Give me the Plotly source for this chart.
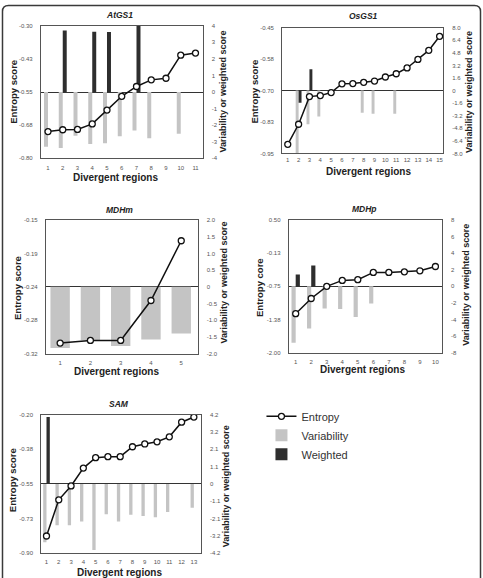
import plotly.graph_objects as go

W, H = 483, 578

# ---------------- data ----------------
panel_names = ["AtGS1", "OsGS1", "MDHm", "MDHp", "SAM"]

atgs1_entropy = [-0.699, -0.692, -0.691, -0.670, -0.618, -0.566, -0.529, -0.504, -0.498, -0.411, -0.403]
atgs1_variability = [-3.30, -3.37, -2.63, -3.13, -3.09, -2.67, -2.32, -2.79, None, -2.51, None]
atgs1_weighted = [None, 3.72, None, 3.64, 3.62, None, 4.0, None, None, None, None]

osgs1_entropy = [-0.914, -0.834, -0.724, -0.720, -0.708, -0.673, -0.672, -0.667, -0.662, -0.646,
                 -0.633, -0.610, -0.576, -0.540, -0.484]
osgs1_variability = [None, -8.0, -4.3, -3.3, None, None, None, -2.83, -2.96, None, -2.96, None, None, None, None]
osgs1_weighted = [None, -1.54, 2.7, None, None, None, None, None, None, None, None, None, None, None, None]

mdhm_entropy = [-0.3066, -0.3032, -0.3032, -0.2524, -0.1764]
mdhm_variability = [-1.83, -1.60, -1.77, -1.58, -1.40]
mdhm_weighted = []

mdhp_entropy = [-1.266, -0.980, -0.750, -0.638, -0.625, -0.488, -0.488, -0.476, -0.457, -0.376]
mdhp_variability = [-6.8, -5.1, -2.67, -2.75, -3.7, -2.07, None, None, None, None]
mdhp_weighted = [1.43, 2.5, None, None, None, None, None, None, None, None]

sam_entropy = [-0.813, -0.630, -0.560, -0.470, -0.417, -0.412, -0.412, -0.362, -0.348, -0.337,
               -0.312, -0.238, -0.212]
sam_variability = [-3.54, -2.5, -2.5, -2.28, -4.0, -1.84, -2.28, -1.86, -1.94, -2.02, -1.7, None, -1.44]
sam_weighted = [4.06, None, None, None, None, None, None, None, None, None, None, None, None]

# tick labels
atgs1_left_ticks = ["-0.30", "-0.43", "-0.55", "-0.68", "-0.80"]
osgs1_left_ticks = ["-0.45", "-0.58", "-0.70", "-0.83", "-0.95"]
mdhm_left_ticks = ["-0.15", "-0.19", "-0.24", "-0.28", "-0.32"]
mdhp_left_ticks = ["0.50", "-0.13", "-0.75", "-1.38", "-2.00"]
sam_left_ticks = ["-0.20", "-0.38", "-0.55", "-0.73", "-0.90"]

atgs1_right_ticks = ["4", "3", "2", "1", "0", "-1", "-2", "-3", "-4"]
osgs1_right_ticks = ["8.0", "6.4", "4.8", "3.2", "1.6", "0", "-1.6", "-3.2", "-4.8", "-6.4", "-8.0"]
mdhm_right_ticks = ["2.0", "1.5", "1.0", "0.5", "0", "-0.5", "-1.0", "-1.5", "-2.0"]
mdhp_right_ticks = ["8", "6", "4", "2", "0", "-2", "-4", "-6", "-8"]
sam_right_ticks = ["4.2", "3.2", "2.1", "1.1", "0", "-1.1", "-2.1", "-3.2", "-4.2"]

left_ranges = [(-0.80, -0.30), (-0.95, -0.45), (-0.32, -0.15), (-2.00, 0.50), (-0.90, -0.20)]
right_ranges = [(-4, 4), (-8, 8), (-2, 2), (-8, 8), (-4.2, 4.2)]
left_titles = ["Entropy score", "Entropy score", "Entropy score", "Entropy core", "Entropy score"]
x_title = "Divergent regions"
right_title = "Variability or weighted score"

entropy_all = [atgs1_entropy, osgs1_entropy, mdhm_entropy, mdhp_entropy, sam_entropy]
variability_all = [atgs1_variability, osgs1_variability, mdhm_variability, mdhp_variability, sam_variability]
weighted_all = [atgs1_weighted, osgs1_weighted, mdhm_weighted, mdhp_weighted, sam_weighted]
left_ticks_all = [atgs1_left_ticks, osgs1_left_ticks, mdhm_left_ticks, mdhp_left_ticks, sam_left_ticks]
right_ticks_all = [atgs1_right_ticks, osgs1_right_ticks, mdhm_right_ticks, mdhp_right_ticks, sam_right_ticks]

# ---------------- layout geometry (pixels) ----------------
plot_boxes = [  # left, right, top, bottom
    (41, 203, 23, 157),
    (282.7, 444, 25, 152),
    (46, 198, 219.3, 354.3),
    (289.3, 442.7, 219.3, 353.3),
    (41.3, 201.3, 416, 556),
]
x_label_standoff = [3, 0, 3, 3, 3]
x_ranges = [(0.52, 11.48), (0.48, 15.32), (0.53, 5.54), (0.55, 10.41), (0.57, 13.57)]
# annotation positions: title(x,y), left title(x,y), right title(x,y), x title(x,y)
title_pos = [(120, 12), (364, 13), (120, 209), (365, 208), (119, 405)]
ltitle_pos = [(12.7, 90), (255, 89), (17, 288), (260, 287.5), (12.7, 482.5)]
rtitle_pos = [(224, 90), (470, 90), (225, 283), (466.7, 285), (226.7, 488)]
xtitle_pos = [(116, 176.7), (369, 170), (117, 372.7), (363, 370), (120, 575)]

FONT = "Liberation Sans, Arial, Helvetica, sans-serif"
GRAY = "#c4c4c4"
DARK = "#2e2e2e"
AXC = "#555555"


def px(x):
    return x / W


def py(y):
    return 1 - y / H


fig = go.Figure()
layout = dict(
    width=W, height=H,
    margin=dict(l=0, r=0, t=0, b=0),
    paper_bgcolor="white", plot_bgcolor="white",
    barmode="group", bargap=0.46,
    font=dict(family=FONT, color="#333"),
    showlegend=True,
    legend=dict(x=px(262), y=py(403), xanchor="left", yanchor="top",
                font=dict(size=11, color="#333", family=FONT),
                bgcolor="rgba(0,0,0,0)", itemwidth=30, tracegroupgap=0),
)
annotations = []


def ann(text, x, y, size, angle=0):
    return dict(text=text, x=px(x), y=py(y), xref="paper", yref="paper",
                xanchor="center", yanchor="middle", showarrow=False, textangle=angle,
                font=dict(size=size, color="#222", family=FONT))


for i in range(5):
    k = i + 1
    ya = 2 * i + 1  # bar axis (right)
    yb = 2 * i + 2  # entropy axis (left)
    l, r, t, b = plot_boxes[i]
    ent = entropy_all[i]
    n = len(ent)
    xs = list(range(1, n + 1))
    xname = "x" if k == 1 else f"x{k}"
    yaname = "y" if ya == 1 else f"y{ya}"
    ybname = f"y{yb}"

    var = variability_all[i]
    wt = weighted_all[i]
    bar_kw = {}
    if len(wt) == 0:
        bar_kw["width"] = 0.64
    fig.add_trace(go.Bar(x=xs, y=var, marker=dict(color=GRAY, line=dict(width=0)),
                         name="Variability", legendgroup="var", showlegend=(i == 0),
                         legendrank=2, xaxis=xname, yaxis=yaname, **bar_kw))
    if len(wt) > 0:
        fig.add_trace(go.Bar(x=xs, y=wt, marker=dict(color=DARK, line=dict(width=0)),
                             name="Weighted", legendgroup="wt", showlegend=(i == 0),
                             legendrank=3, xaxis=xname, yaxis=yaname))
    fig.add_trace(go.Scatter(x=xs, y=ent, mode="lines+markers",
                             line=dict(color="#111", width=1.5),
                             marker=dict(symbol="circle", size=6, color="white",
                                         line=dict(color="#111", width=1.3)),
                             name="Entropy", legendgroup="ent", showlegend=(i == 0),
                             legendrank=1, xaxis=xname, yaxis=ybname))

    lr0, lr1 = left_ranges[i]
    lt = left_ticks_all[i]
    lvals = [lr1 - j * (lr1 - lr0) / (len(lt) - 1) for j in range(len(lt))]
    rr0, rr1 = right_ranges[i]
    rt = right_ticks_all[i]
    rvals = [rr1 - j * (rr1 - rr0) / (len(rt) - 1) for j in range(len(rt))]

    tickfont = dict(size=6, color=AXC, family=FONT)
    layout["xaxis" if k == 1 else f"xaxis{k}"] = dict(
        domain=[px(l), px(r)], range=list(x_ranges[i]), anchor=yaname,
        tickvals=xs, ticktext=[str(v) for v in xs], tickfont=tickfont,
        showline=True, linecolor=AXC, linewidth=1, mirror=True,
        ticks="", showgrid=False, zeroline=False, ticklabelstandoff=x_label_standoff[i],
    )
    layout["yaxis" if ya == 1 else f"yaxis{ya}"] = dict(
        domain=[py(b), py(t)], range=[rr0, rr1], anchor=xname, side="right",
        tickvals=rvals, ticktext=rt, tickfont=tickfont,
        showline=True, linecolor=AXC, linewidth=1,
        ticks="", showgrid=False, zeroline=True, zerolinecolor="#333", zerolinewidth=1,
        ticklabelstandoff=7,
    )
    layout[f"yaxis{yb}"] = dict(
        overlaying=yaname, range=[lr0, lr1], anchor=xname, side="left",
        tickvals=lvals, ticktext=lt, tickfont=tickfont,
        showline=True, linecolor=AXC, linewidth=1,
        ticks="", showgrid=False, zeroline=False, ticklabelstandoff=6,
    )

    tx, ty = title_pos[i]
    annotations.append(ann(f"<b><i>{panel_names[i]}</i></b>", tx, ty, 8.5))
    lx, ly = ltitle_pos[i]
    annotations.append(ann(f"<b>{left_titles[i]}</b>", lx, ly, 9.5, -90))
    rx, ry = rtitle_pos[i]
    annotations.append(ann(f"<b>{right_title}</b>", rx, ry, 9, -90))
    xx, xy = xtitle_pos[i]
    annotations.append(ann(f"<b>{x_title}</b>", xx, xy, 10))

layout["annotations"] = annotations

# outer rounded frame (open at the bottom, clipped by the window)
rad_x, rad_y = 6 / W, 6 / H
x0, x1, y0 = px(2.5), px(481.5), py(2.5)
yb_ = py(590)
frame_path = (f"M {x0},{yb_} L {x0},{y0 - rad_y} Q {x0},{y0} {x0 + rad_x},{y0} "
              f"L {x1 - rad_x},{y0} Q {x1},{y0} {x1},{y0 - rad_y} L {x1},{yb_}")
layout["shapes"] = [dict(type="path", path=frame_path, xref="paper", yref="paper",
                         line=dict(color="#3a3a3a", width=1.5))]

fig.update_layout(**layout)
fig.write_html("out.html")
